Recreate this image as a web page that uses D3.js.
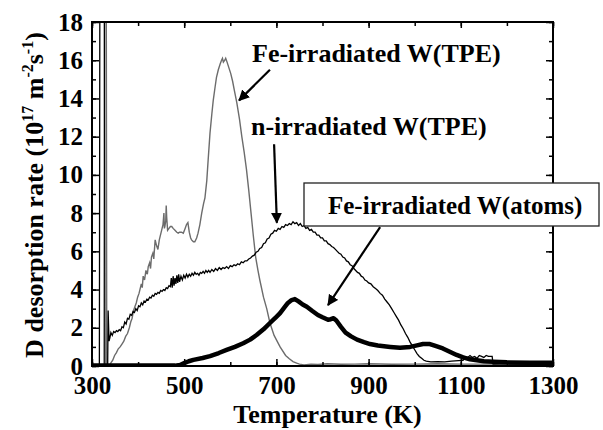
<!DOCTYPE html>
<html lang="en">
<head>
  <meta charset="UTF-8">
  <title>D desorption rate</title>
  <script src="https://d3js.org/d3.v7.min.js"></script>
  <style>
    body { margin: 0; background: #fff; }
  </style>
</head>
<body>
  <div class="canvas"></div>
  <script>
    const width = 603;
    const height = 430;
    let [mt, mb, mr, ml] = [22, 64, 50, 92];
    const serif = 'Liberation Serif';

    // x tick labels
    const xMajor = [300, 500, 700, 900, 1100, 1300];
    const yMajor = [0, 2, 4, 6, 8, 10, 12, 14, 16, 18];

    // Fe-irradiated W(TPE) - gray curve [T, rate]
    const feTpe = [
      [320, 0], [326, 0], [327, 19], [331, 19], [332, 0], [338, 0], [341, 0.17], [345, 0.3],
      [349, 0.55], [353, 0.7], [357, 0.9], [361, 1.0], [365, 1.15], [369, 1.3], [373, 1.55],
      [377, 1.7], [381, 2.0], [384, 2.3], [387, 2.5], [390, 2.9], [393, 3.1], [396, 3.3],
      [399, 3.6], [402, 3.8], [404, 4.0], [407, 4.3], [409, 4.1], [411, 4.7], [414, 4.5],
      [417, 5.0], [420, 4.8], [422, 5.2], [425, 5.4], [427, 5.1], [429, 5.7], [432, 5.9],
      [434, 5.6], [437, 6.6], [440, 6.3], [443, 6.1], [446, 6.6], [449, 6.9], [451, 7.1],
      [454, 7.4], [456, 8.0], [457, 7.2], [458, 7.3], [460, 7.6], [461, 8.4], [462, 7.8],
      [464, 7.1], [467, 7.2], [470, 7.3], [473, 7.3], [476, 7.2], [480, 7.1], [484, 7.0],
      [487, 6.95], [490, 7.0], [494, 7.0], [498, 6.95], [502, 7.2], [505, 7.4], [508, 7.5],
      [511, 7.0], [514, 6.7], [516, 6.6], [520, 6.5], [523, 6.5], [527, 6.7], [530, 6.95],
      [534, 7.4], [538, 8.0], [542, 8.5], [545, 8.8], [549, 9.7], [552, 10.8], [556, 12.2],
      [560, 13.2], [563, 13.9], [567, 14.6], [570, 15.1], [574, 15.5], [578, 15.8], [581, 16.0],
      [583, 16.1], [585, 15.9], [588, 16.0], [590, 16.1], [593, 15.9], [597, 15.6], [601, 15.3],
      [605, 14.9], [609, 14.4], [614, 13.8], [620, 12.9], [625, 12.0], [630, 11.2], [635, 10.3],
      [640, 9.2], [645, 8.0], [650, 6.8], [655, 5.7], [660, 5.0], [664, 4.5], [672, 3.6],
      [679, 3.0], [686, 2.25], [695, 1.6], [708, 1.0], [720, 0.55], [728, 0.38], [736, 0.23],
      [744, 0.15], [750, 0.1], [760, 0.06], [775, 0.1], [790, 0.08], [810, 0.12], [840, 0.09],
      [870, 0.1], [900, 0.12], [950, 0.09], [1000, 0.1], [1050, 0.12], [1100, 0.1],
      [1200, 0.1], [1300, 0.08]
    ];

    // n-irradiated W(TPE) - thin black curve [T, rate]
    const nTpe = [
      [312, 0], [316, 0], [317, 19], [327, 19], [328, 0], [334, 0], [335, 2.9], [337, 1.3],
      [339, 1.5], [341, 1.75], [344, 1.6], [347, 1.8], [350, 1.75], [353, 1.85], [356, 1.8],
      [359, 1.9], [362, 1.85], [365, 2.05], [368, 2.0], [371, 2.3], [374, 2.2], [377, 2.5],
      [380, 2.45], [383, 2.7], [386, 2.65], [389, 2.85], [392, 2.8], [395, 3.0], [398, 2.9],
      [401, 3.15], [404, 3.1], [407, 3.3], [410, 3.2], [413, 3.4], [416, 3.35], [419, 3.5],
      [422, 3.45], [425, 3.6], [428, 3.55], [431, 3.7], [434, 3.65], [437, 3.8], [440, 3.75],
      [443, 3.85], [446, 3.8], [449, 3.95], [452, 3.9], [455, 4.0], [458, 3.95], [461, 4.1],
      [464, 4.05], [467, 4.2], [470, 4.15], [472, 4.6], [474, 4.1], [476, 4.7], [478, 4.2],
      [480, 4.6], [482, 4.3], [484, 4.75], [486, 4.35], [488, 4.8], [490, 4.4], [493, 4.7],
      [496, 4.5], [499, 4.75], [502, 4.6], [505, 4.8], [508, 4.65], [511, 4.8], [514, 4.7],
      [517, 4.85], [520, 4.75], [523, 4.9], [526, 4.8], [529, 4.85], [532, 4.75], [535, 4.9],
      [538, 4.85], [541, 4.95], [544, 4.85], [547, 5.0], [550, 4.9], [553, 5.0], [556, 4.9],
      [560, 5.05], [564, 4.95], [568, 5.1], [572, 5.0], [576, 5.15], [580, 5.05], [584, 5.15],
      [588, 5.1], [592, 5.2], [596, 5.1], [600, 5.25], [604, 5.2], [608, 5.3], [612, 5.25],
      [616, 5.35], [620, 5.3], [624, 5.45], [628, 5.4], [632, 5.5], [636, 5.5], [640, 5.6],
      [644, 5.65], [648, 5.75], [652, 5.8], [656, 5.95], [660, 6.0], [664, 6.15], [668, 6.2],
      [672, 6.4], [676, 6.45], [680, 6.65], [684, 6.7], [688, 6.9], [692, 6.95], [696, 7.1],
      [700, 7.05], [704, 7.2], [708, 7.15], [712, 7.3], [716, 7.25], [720, 7.4], [724, 7.35],
      [728, 7.45], [732, 7.4], [736, 7.55], [740, 7.45], [744, 7.5], [748, 7.35], [752, 7.45],
      [756, 7.3], [760, 7.35], [764, 7.2], [768, 7.25], [772, 7.1], [776, 7.15], [780, 7.0],
      [784, 7.0], [788, 6.85], [792, 6.85], [796, 6.7], [800, 6.7], [804, 6.55], [808, 6.55],
      [812, 6.4], [816, 6.35], [820, 6.25], [824, 6.2], [828, 6.1], [832, 6.0], [836, 5.9],
      [840, 5.85], [844, 5.7], [848, 5.65], [852, 5.5], [856, 5.45], [860, 5.3], [864, 5.25],
      [868, 5.1], [872, 5.0], [876, 4.9], [880, 4.85], [884, 4.7], [888, 4.65], [892, 4.5],
      [896, 4.45], [900, 4.35], [905, 4.3], [910, 4.15], [915, 4.05], [920, 3.95], [925, 3.8],
      [930, 3.7], [935, 3.5], [940, 3.35], [945, 3.2], [950, 3.0], [955, 2.8], [960, 2.6],
      [965, 2.4], [970, 2.15], [975, 1.95], [980, 1.7], [985, 1.5], [990, 1.25], [995, 1.05],
      [1000, 0.85], [1005, 0.65], [1010, 0.5], [1015, 0.4], [1020, 0.3], [1025, 0.25],
      [1035, 0.22], [1050, 0.23], [1065, 0.22], [1080, 0.25], [1095, 0.28], [1105, 0.3],
      [1108, 0.5], [1115, 0.45], [1120, 0.55], [1125, 0.45], [1130, 0.5], [1135, 0.4],
      [1140, 0.55], [1145, 0.5], [1150, 0.45], [1155, 0.55], [1160, 0.5], [1168, 0.5],
      [1170, 0.1], [1200, 0.12], [1250, 0.1], [1300, 0.1]
    ];

    // Fe-irradiated W(atoms) - thick black curve [T, rate]
    const feAtoms = [
      [300, 0.02], [400, 0.02], [480, 0.02], [491, 0.05], [500, 0.15], [510, 0.25], [520, 0.32],
      [540, 0.42], [556, 0.52], [575, 0.68], [592, 0.84], [610, 1.0], [628, 1.19], [643, 1.38],
      [657, 1.62], [672, 1.92], [686, 2.25], [697, 2.5], [708, 2.77], [717, 3.05], [725, 3.3],
      [733, 3.45], [740, 3.5], [748, 3.38], [757, 3.22], [766, 3.1], [778, 2.88], [790, 2.67],
      [800, 2.55], [812, 2.42], [818, 2.45], [824, 2.5], [830, 2.38], [840, 2.05], [850, 1.75],
      [862, 1.55], [875, 1.38], [890, 1.25], [903, 1.15], [920, 1.07], [947, 1.0], [968, 0.95],
      [990, 1.0], [1005, 1.08], [1018, 1.15], [1033, 1.15], [1045, 1.05], [1061, 0.92],
      [1076, 0.75], [1091, 0.58], [1105, 0.45], [1120, 0.35], [1135, 0.3], [1150, 0.25],
      [1170, 0.22], [1200, 0.19], [1250, 0.17], [1300, 0.17]
    ];

    const svg = d3.select('.canvas')
      .append('svg')
      .attr('width', width)
      .attr('height', height);

    const graphWidth = width - mr - ml;
    const graphHeight = height - mb - mt;

    const graph = svg.append('g')
      .attr('transform', `translate(${ml}, ${mt})`);

    const x = d3.scaleLinear().domain([300, 1300]).range([0, graphWidth]);
    const y = d3.scaleLinear().domain([0, 18]).range([graphHeight, 0]);

    const xMinor = d3.range(300, 1301, 100);
    const yMinor = d3.range(0, 18.1, 1);

    // clip curves to plot area
    svg.append('defs').append('clipPath')
      .attr('id', 'clip')
      .append('rect')
      .attr('width', graphWidth)
      .attr('height', graphHeight);

    const line = d3.line().x(d => x(d[0])).y(d => y(d[1]));

    const curves = graph.append('g').attr('clip-path', 'url(#clip)');
    curves.append('path').datum(feTpe)
      .attr('fill', 'none').attr('stroke', '#6c6c6c').attr('stroke-width', 1.4)
      .attr('d', line);
    curves.append('path').datum(nTpe)
      .attr('fill', 'none').attr('stroke', '#000').attr('stroke-width', 1.3)
      .attr('d', line);
    curves.append('path').datum(feAtoms)
      .attr('fill', 'none').attr('stroke', '#000').attr('stroke-width', 4.5)
      .attr('stroke-linejoin', 'round')
      .attr('d', line);

    // axes with inward ticks on all four sides
    const fmt = d3.format('d');
    const styleAxis = g => {
      g.select('.domain').remove();
      g.selectAll('line').attr('stroke', '#000').attr('stroke-width', 1.5);
      g.selectAll('text')
        .style('font-family', serif)
        .style('font-weight', 'bold')
        .attr('font-size', 25)
        .attr('fill', '#000');
    };

    graph.append('g').attr('transform', `translate(0, ${graphHeight})`)
      .call(d3.axisBottom(x).tickValues(xMinor).tickSize(-4).tickFormat(''))
      .call(styleAxis);
    graph.append('g').attr('transform', `translate(0, ${graphHeight})`)
      .call(d3.axisBottom(x).tickValues(xMajor).tickSize(-7).tickPadding(10).tickFormat(fmt))
      .call(styleAxis);
    graph.append('g')
      .call(d3.axisTop(x).tickValues(xMinor).tickSize(-4).tickFormat(''))
      .call(styleAxis);
    graph.append('g')
      .call(d3.axisTop(x).tickValues(xMajor).tickSize(-6).tickFormat(''))
      .call(styleAxis);

    graph.append('g')
      .call(d3.axisLeft(y).tickValues(yMinor).tickSize(-4).tickFormat(''))
      .call(styleAxis);
    graph.append('g')
      .call(d3.axisLeft(y).tickValues(yMajor).tickSize(-7).tickPadding(9).tickFormat(fmt))
      .call(styleAxis);
    graph.append('g').attr('transform', `translate(${graphWidth}, 0)`)
      .call(d3.axisRight(y).tickValues(yMinor).tickSize(-4).tickFormat(''))
      .call(styleAxis);
    graph.append('g').attr('transform', `translate(${graphWidth}, 0)`)
      .call(d3.axisRight(y).tickValues(yMajor).tickSize(-7).tickFormat(''))
      .call(styleAxis);

    graph.append('rect')
      .attr('width', graphWidth)
      .attr('height', graphHeight)
      .attr('fill', 'none')
      .attr('stroke', '#000')
      .attr('stroke-width', 2);

    // text helper: bold serif
    const label = (sel) => sel.style('font-family', serif).style('font-weight', 'bold');

    // axis titles
    graph.append('text')
      .call(label)
      .attr('x', x(800) + 5)
      .attr('y', graphHeight + 57)
      .attr('text-anchor', 'middle')
      .attr('font-size', 26)
      .text('Temperature (K)');

    const yt = svg.append('text')
      .call(label)
      .attr('transform', `translate(43, 195) rotate(-90)`)
      .attr('text-anchor', 'middle')
      .attr('font-size', 26);
    yt.append('tspan').text('D desorption rate (10');
    yt.append('tspan').attr('font-size', 16).attr('dy', -10).text('17');
    yt.append('tspan').attr('dy', 10).text(' m');
    yt.append('tspan').attr('font-size', 16).attr('dy', -10).text('-2');
    yt.append('tspan').attr('dy', 10).text('s');
    yt.append('tspan').attr('font-size', 16).attr('dy', -10).text('-1');
    yt.append('tspan').attr('dy', 10).text(')');

    // annotations
    svg.append('defs').append('marker')
      .attr('id', 'head')
      .attr('viewBox', '0 0 10 10')
      .attr('refX', 9).attr('refY', 5)
      .attr('markerWidth', 5).attr('markerHeight', 5)
      .attr('markerUnits', 'strokeWidth')
      .attr('orient', 'auto')
      .append('path')
      .attr('d', 'M0,0 L10,5 L0,10 Z')
      .attr('fill', '#000');

    const arrows = [
      [[686, 15.5], [619, 13.9]],
      [[695, 11.6], [701, 7.5]],
      [[925, 7.27], [812, 3.19]]
    ];
    graph.selectAll('.arrow')
      .data(arrows)
      .enter()
      .append('line')
      .attr('class', 'arrow')
      .attr('x1', d => x(d[0][0]))
      .attr('y1', d => y(d[0][1]))
      .attr('x2', d => x(d[1][0]))
      .attr('y2', d => y(d[1][1]))
      .attr('stroke', '#000')
      .attr('stroke-width', 2.2)
      .attr('marker-end', 'url(#head)');

    svg.append('text')
      .call(label)
      .attr('x', 252).attr('y', 62)
      .attr('font-size', 26)
      .text('Fe-irradiated W(TPE)');
    svg.append('text')
      .call(label)
      .attr('x', 251).attr('y', 135)
      .attr('font-size', 26)
      .text('n-irradiated W(TPE)');

    svg.append('rect')
      .attr('x', 304).attr('y', 183)
      .attr('width', 295).attr('height', 43)
      .attr('fill', '#fff')
      .attr('stroke', '#222')
      .attr('stroke-width', 1.3);
    svg.append('text')
      .call(label)
      .attr('x', 328).attr('y', 214)
      .attr('font-size', 25)
      .text('Fe-irradiated W(atoms)');
  </script>
</body>
</html>
